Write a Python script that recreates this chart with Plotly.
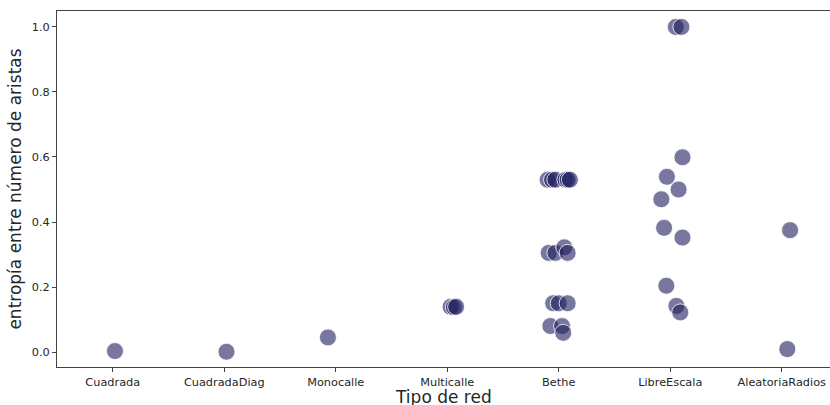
import plotly.graph_objects as go

categories = ["Cuadrada", "CuadradaDiag", "Monocalle", "Multicalle", "Bethe", "LibreEscala", "AleatoriaRadios"]

# category index of each point, jitter offset, entropy value
cat_index = [0, 1, 2,
             3, 3, 3,
             4, 4, 4, 4, 4, 4,
             4, 4, 4, 4,
             4, 4, 4,
             4, 4, 4,
             5, 5, 5, 5, 5, 5, 5, 5, 5, 5, 5,
             6, 6]
jitter = [0.02, 0.02, -0.07,
          0.03, 0.06, 0.08,
          -0.10, -0.06, -0.03, 0.06, 0.08, 0.10,
          -0.09, -0.03, 0.05, 0.08,
          -0.05, 0.0, 0.08,
          -0.075, 0.03, 0.04,
          0.05, 0.10, 0.11, -0.03, 0.075, -0.08, -0.055, 0.11, -0.035, 0.055, 0.09,
          0.075, 0.05]
entropy = [0.003, 0.001, 0.045,
           0.139, 0.138, 0.139,
           0.53, 0.53, 0.53, 0.53, 0.53, 0.53,
           0.305, 0.305, 0.322, 0.305,
           0.15, 0.15, 0.15,
           0.08, 0.08, 0.059,
           1.0, 1.0, 0.599, 0.539, 0.50, 0.47, 0.382, 0.352, 0.204, 0.142, 0.122,
           0.375, 0.009]

xpos = [i + j for i, j in zip(cat_index, jitter)]

fig = go.Figure()
fig.add_trace(go.Scatter(
    x=xpos, y=entropy, mode="markers",
    marker=dict(size=17, color="rgba(30,30,95,0.6)",
                line=dict(color="rgba(255,255,255,0.8)", width=1)),
    showlegend=False, hoverinfo="y", cliponaxis=True,
))

font_family = "DejaVu Sans"
fig.update_layout(
    width=830, height=405,
    margin=dict(l=57, r=0, t=11, b=38),
    paper_bgcolor="white", plot_bgcolor="white",
    font=dict(family=font_family, size=11.3, color="#262626"),
)
fig.update_xaxes(
    range=[-0.5, 6.433], tickmode="array", tickvals=list(range(len(categories))), ticktext=categories,
    showgrid=False, zeroline=False, showline=True, linecolor="#444", linewidth=1, mirror=True,
    ticks="outside", ticklen=4, tickcolor="#444",
)
fig.update_yaxes(
    range=[-0.046, 1.049], tickmode="array", tickvals=[0, 0.2, 0.4, 0.6, 0.8, 1.0],
    ticktext=["0.0", "0.2", "0.4", "0.6", "0.8", "1.0"],
    showgrid=False, zeroline=False, showline=True, linecolor="#444", linewidth=1, mirror=False,
    ticks="outside", ticklen=4, tickcolor="#444",
    title=dict(text="entropía entre número de aristas", font=dict(size=17, color="#262626"), standoff=5),
)
fig.add_annotation(
    text="Tipo de red", xref="paper", yref="paper", x=0.5, y=-0.085,
    xanchor="center", yanchor="middle", showarrow=False,
    font=dict(size=17, color="#262626"),
)
fig.write_html("out.html")
